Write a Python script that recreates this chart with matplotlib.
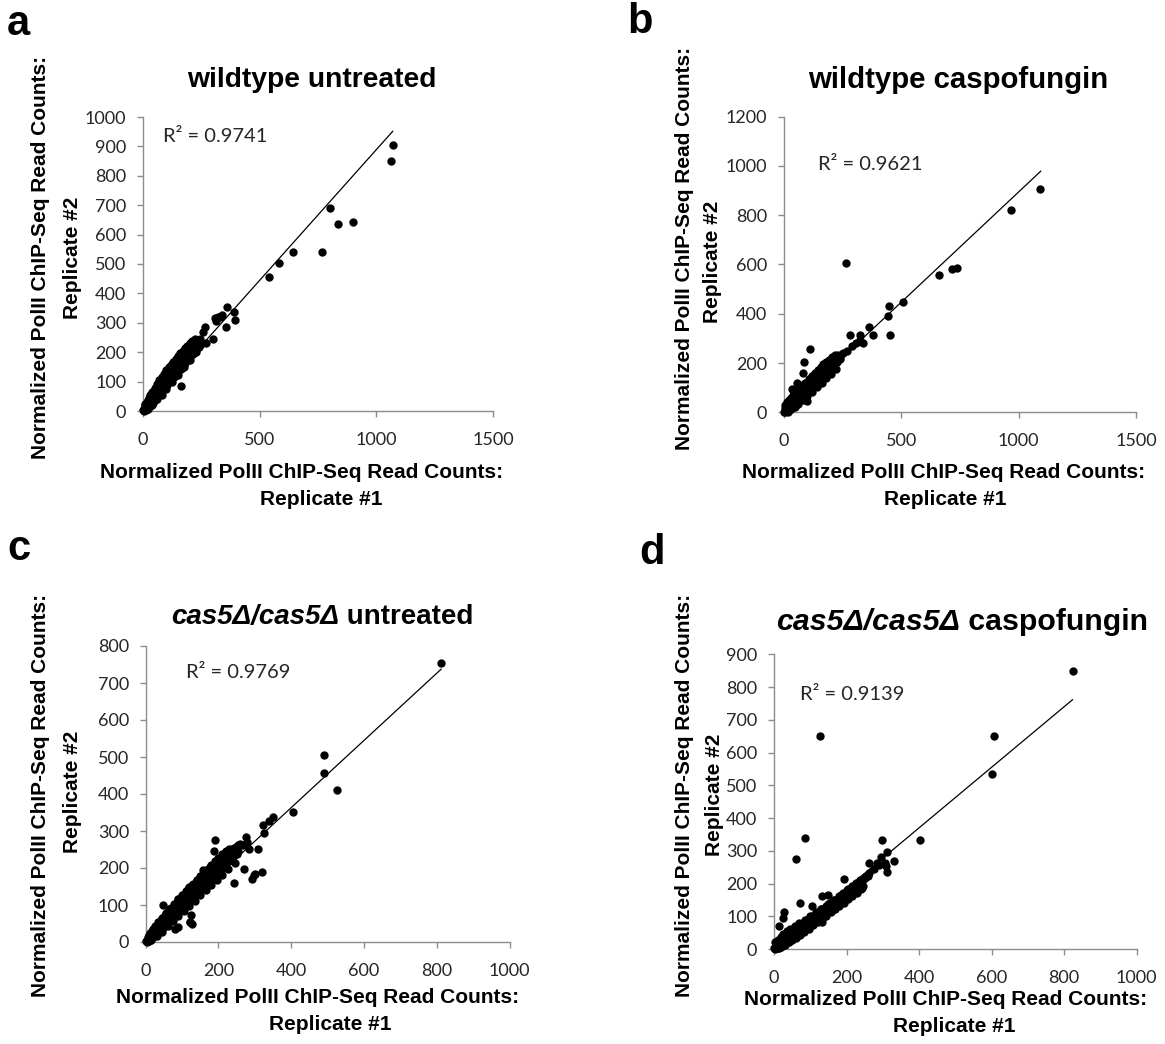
import matplotlib
matplotlib.use("Agg")
import matplotlib.pyplot as plt
import numpy as np

W, H = 1165, 1044

# ---- panel a: wildtype untreated (dense band + outliers) ----
wt_untr_x = [5, 10, 15, 20, 25, 30, 36, 42, 48, 54, 60, 66, 72, 78, 84, 90, 96, 102, 108, 114, 120,
             126, 132, 138, 144, 150, 156, 162, 168, 174, 180, 186, 192, 198, 204, 210, 216, 222, 228,
             234, 240, 246,
             8, 16, 24, 32, 40, 50, 60, 70, 80, 90, 100, 110, 120, 130, 140, 150, 160, 170, 180, 190,
             200, 212, 224,
             12, 22, 32, 42, 52, 62, 72, 82, 92, 102, 112, 122, 132, 142, 152, 162, 172, 182, 192, 202,
             214, 226, 238, 250,
             10, 20, 30, 45, 60, 75, 90, 105, 120, 135, 150, 165, 180, 195, 210,
             20, 40, 60, 80, 100, 125, 150, 175, 200, 225,
             162, 1070, 1063, 800, 834, 898, 765, 641, 581, 542, 362, 388, 396, 355, 330, 312, 267, 259,
             299, 272, 309, 323, 338, 1, 3]
wt_untr_y = [6, 12, 19, 25, 31, 37, 44, 51, 58, 65, 72, 79, 86, 93, 99, 106, 113, 120, 126, 133, 139,
             146, 152, 158, 164, 170, 176, 182, 188, 193, 199, 205, 210, 215, 220, 225, 229, 233, 236,
             239, 242, 245,
             20, 32, 44, 55, 66, 78, 92, 104, 116, 127, 138, 148, 158, 168, 178, 188, 197, 205, 214, 222,
             230, 238, 245,
             4, 10, 18, 28, 38, 48, 58, 68, 78, 88, 98, 108, 117, 126, 135, 144, 153, 162, 172, 182,
             194, 206, 218, 228,
             25, 38, 50, 68, 85, 102, 118, 135, 150, 165, 180, 195, 208, 222, 235,
             6, 22, 40, 56, 74, 98, 122, 148, 172, 200,
             86, 905, 851, 690, 637, 644, 540, 541, 503, 455, 355, 338, 310, 287, 319, 307, 287, 270,
             245, 230, 315, 321, 326, 2, 1]

# ---- panel b: wildtype caspofungin ----
wt_caspo_x = [4, 8, 12, 17, 22, 27, 33, 39, 45, 51, 57, 63, 70, 77, 84, 91, 98, 105, 112, 119, 126,
              133, 140, 147, 154, 161, 168, 175, 182, 190, 198, 206, 214, 222,
              6, 14, 22, 30, 38, 46, 56, 66, 76, 86, 96, 108, 120, 132, 144, 156, 168, 180, 192, 204, 216,
              10, 20, 30, 40, 50, 60, 70, 82, 94, 106, 118, 130, 142, 154, 166, 178, 190, 202, 214, 226, 238,
              5, 12, 20, 28, 38, 50, 62, 75, 90, 105, 120, 135, 150, 165, 180, 195,
              15, 30, 45, 60, 80, 100, 120, 140, 160, 180, 200, 220,
              1092, 967, 264, 662, 717, 738, 506, 449, 443, 453, 362, 378, 324, 280, 335, 305, 288, 267,
              229, 111, 85, 80, 57, 34, 97, 324, 250, 240, 1, 3]
wt_caspo_y = [5, 10, 15, 21, 27, 33, 40, 47, 54, 61, 68, 75, 83, 91, 98, 106, 113, 120, 127, 134, 141,
              148, 155, 162, 169, 176, 182, 189, 195, 202, 209, 216, 222, 229,
              18, 30, 42, 52, 60, 70, 82, 94, 104, 114, 124, 136, 148, 160, 172, 183, 194, 204, 214, 225, 234,
              4, 10, 18, 26, 34, 44, 54, 66, 78, 90, 102, 114, 126, 138, 150, 160, 170, 182, 194, 206, 218,
              28, 40, 50, 60, 70, 80, 92, 104, 118, 132, 146, 160, 172, 186, 198, 212,
              3, 12, 22, 32, 48, 66, 84, 102, 120, 138, 156, 176,
              904, 821, 604, 559, 582, 586, 448, 432, 392, 313, 347, 313, 313, 315, 280, 280, 270, 250,
              234, 257, 205, 161, 118, 94, 46, 293, 240, 225, 2, 1]

# ---- panel c: cas5 untreated ----
cas5_untr_x = [3, 7, 11, 15, 19, 23, 28, 33, 38, 43, 48, 53, 58, 63, 68, 73, 78, 83, 88, 93, 98, 103,
               108, 113, 118, 123, 128, 133, 138, 143, 148, 153, 158, 163, 168, 173, 178, 183, 188, 193,
               198, 203, 208, 213, 218, 223, 228, 233, 238, 243, 248, 254, 260,
               5, 12, 20, 28, 36, 44, 52, 60, 70, 80, 90, 100, 110, 120, 130, 140, 150, 160, 170, 180,
               190, 200, 210, 220, 230,
               10, 18, 26, 34, 42, 50, 60, 70, 80, 90, 100, 110, 120, 130, 140, 150, 160, 170, 180, 190,
               200, 210, 220, 230, 240, 250,
               8, 16, 25, 35, 45, 55, 65, 78, 90, 102, 115, 128, 140, 152, 165, 178, 190, 202, 215,
               15, 30, 45, 60, 75, 90, 105, 120, 135, 150, 165, 180, 195, 210, 225, 245,
               812, 490, 490, 525, 406, 351, 340, 322, 324, 308, 319, 299, 292, 301, 271, 244, 277, 279,
               285, 191, 189, 157, 47, 126, 121, 122, 124, 90, 81, 232, 255, 268, 1, 3]
cas5_untr_y = [4, 8, 12, 16, 21, 25, 30, 35, 41, 46, 51, 57, 62, 67, 73, 78, 83, 89, 94, 99, 105, 110,
               115, 121, 126, 131, 137, 142, 147, 153, 158, 163, 169, 174, 179, 185, 190, 195, 201, 206,
               211, 217, 222, 227, 232, 238, 243, 247, 251, 255, 258, 262, 266,
               14, 24, 34, 44, 54, 63, 72, 82, 93, 104, 115, 126, 137, 148, 158, 168, 178, 188, 198, 208,
               218, 228, 237, 245, 252,
               4, 10, 17, 25, 33, 41, 51, 60, 70, 80, 90, 100, 110, 120, 130, 140, 150, 160, 170, 180,
               190, 200, 210, 220, 230, 238,
               20, 30, 42, 54, 66, 78, 88, 102, 115, 128, 142, 155, 167, 178, 190, 202, 212, 222, 234,
               5, 15, 28, 42, 56, 70, 84, 98, 112, 126, 140, 154, 168, 182, 196, 214,
               753, 506, 456, 411, 351, 339, 327, 317, 295, 251, 190, 181, 169, 185, 198, 160, 285, 271,
               251, 277, 247, 194, 100, 49, 53, 55, 73, 41, 34, 240, 247, 262, 2, 1]

# ---- panel d: cas5 caspofungin ----
cas5_caspo_x = [3, 7, 11, 16, 21, 26, 32, 38, 44, 50, 56, 62, 68, 75, 82, 89, 96, 103, 110, 117, 124,
                131, 138, 145, 152, 159, 166, 173, 180, 188, 196, 204, 212, 220, 228, 236, 244, 252, 260,
                5, 12, 20, 28, 36, 45, 55, 65, 75, 85, 95, 106, 118, 130, 142, 154, 166, 178, 190, 202,
                214, 226, 238, 250, 262, 275, 290,
                10, 20, 30, 40, 50, 60, 72, 84, 96, 108, 120, 132, 144, 156, 168, 180, 192, 204, 216, 228, 240,
                4, 10, 18, 26, 35, 45, 58, 70, 85, 100, 115, 130, 148, 165, 185, 205, 225, 245,
                15, 30, 45, 60, 80, 100, 120, 140, 160, 180, 200, 220, 245,
                823, 607, 602, 127, 86, 60, 403, 299, 311, 332, 308, 311, 294, 262, 283, 194, 132, 150,
                104, 72, 28, 26, 15, 132, 242, 306, 1, 3]
cas5_caspo_y = [3, 6, 9, 13, 18, 22, 27, 32, 37, 42, 47, 52, 57, 63, 69, 75, 81, 87, 93, 99, 105,
                111, 117, 123, 129, 135, 141, 147, 153, 160, 167, 174, 181, 188, 195, 202, 209, 216, 223,
                14, 22, 30, 37, 44, 52, 60, 68, 76, 84, 92, 101, 111, 121, 131, 141, 151, 161, 171, 181,
                191, 201, 211, 221, 231, 243, 256,
                2, 7, 13, 20, 27, 34, 43, 52, 62, 72, 82, 92, 102, 112, 122, 132, 142, 152, 162, 172, 182,
                20, 28, 38, 46, 54, 62, 70, 79, 90, 101, 112, 122, 136, 150, 166, 182, 198, 214,
                4, 14, 26, 38, 55, 72, 88, 105, 122, 138, 155, 172, 192,
                848, 651, 533, 649, 340, 275, 333, 333, 297, 269, 252, 236, 282, 262, 264, 214, 163, 165,
                132, 142, 114, 96, 70, 83, 186, 262, 2, 1]

# linear trendlines (slope, x range) and R^2 as printed
trend_slopes = [0.889, 0.894, 0.908, 0.925]
trend_xmax = [1070, 1094, 812, 823]
r2_labels = ["R² = 0.9741", "R² = 0.9621", "R² = 0.9769", "R² = 0.9139"]

xlims = [1500, 1500, 1000, 1000]
xsteps = [500, 500, 200, 200]
ylims = [1000, 1200, 800, 900]
ysteps = [100, 200, 100, 100]

panel_letters = ["a", "b", "c", "d"]
title_italic = ["", "", "cas5Δ/cas5Δ", "cas5Δ/cas5Δ"]
title_plain = ["wildtype untreated", "wildtype caspofungin", " untreated", " caspofungin"]

xlabel1 = "Normalized PolII ChIP-Seq Read Counts:"
xlabel2 = "Replicate #1"
ylabel2 = "Replicate #2"

data = [(wt_untr_x, wt_untr_y), (wt_caspo_x, wt_caspo_y),
        (cas5_untr_x, cas5_untr_y), (cas5_caspo_x, cas5_caspo_y)]

# layout in pixels: axes box (left, right, top, bottom)
boxes = [(143, 493, 117, 411), (784, 1136, 116.5, 412.3),
         (145.7, 509.5, 646, 942), (774, 1136.7, 654.3, 949)]
letter_pos = [(7, 35), (627, 33), (7, 560), (639, 564)]
title_pos = [(312, 80), (958, 80), (322, 617), (962, 622)]
title_size = [20.3, 21.2, 20, 21.8]
r2_pos = [(163, 137), (818, 165), (186, 673), (800, 694)]
xl_pos = [(302, 478, 321, 505), (944, 478, 945, 505), (318, 1003, 330, 1030), (946, 1005, 954, 1032)]
yl_pos = [(41, 257, 72, 258), (684, 248, 713, 262), (41, 795, 72, 792), (684, 795, 715, 795)]

BOLD = ["Liberation Sans", "DejaVu Sans"]
TICK = ["Lato", "DejaVu Sans"]

fig = plt.figure(figsize=(W / 100, H / 100), dpi=100)
renderer = fig.canvas.get_renderer()


def fx(px):
    return px / W


def fy(py):
    return 1 - py / H


for i in range(4):
    l, r, t, b = boxes[i]
    ax = fig.add_axes([fx(l), fy(b), (r - l) / W, (b - t) / H])
    xs, ys = data[i]
    ax.scatter(xs, ys, s=36, color="black", linewidths=0, clip_on=False, zorder=3)
    xl = np.array([0, trend_xmax[i]])
    ax.plot(xl, trend_slopes[i] * xl, color="black", lw=0.9, zorder=2)

    ax.set_xlim(0, xlims[i])
    ax.set_ylim(0, ylims[i])
    ax.set_xticks(np.arange(0, xlims[i] + 1, xsteps[i]))
    ax.set_yticks(np.arange(0, ylims[i] + 1, ysteps[i]))
    for side in ["top", "right"]:
        ax.spines[side].set_visible(False)
    for side in ["left", "bottom"]:
        ax.spines[side].set_color("#8c8c8c")
        ax.spines[side].set_linewidth(1.0)
    ax.tick_params(direction="out", length=4, width=1.0, color="#8c8c8c",
                   labelsize=13, labelcolor="#262626")
    ax.tick_params(axis="x", pad=11)
    ax.tick_params(axis="y", pad=8)
    for lab in ax.get_xticklabels() + ax.get_yticklabels():
        lab.set_family(TICK)

    # panel letter
    lx, ly = letter_pos[i]
    fig.text(fx(lx), fy(ly), panel_letters[i], family=BOLD, weight="bold",
             fontsize=30, ha="left", va="baseline")

    # title, possibly with italic genotype part
    tx, ty = title_pos[i]
    parts = []
    if title_italic[i]:
        parts.append(fig.text(0, fy(ty), title_italic[i], family=BOLD, weight="bold",
                              style="italic", fontsize=title_size[i], ha="left", va="center"))
    parts.append(fig.text(0, fy(ty), title_plain[i], family=BOLD, weight="bold",
                          fontsize=title_size[i], ha="left", va="center"))
    widths = [p.get_window_extent(renderer).width for p in parts]
    x0 = tx - sum(widths) / 2
    for p, w in zip(parts, widths):
        p.set_x(fx(x0))
        x0 += w

    # R^2 annotation
    rx, ry = r2_pos[i]
    fig.text(fx(rx), fy(ry), r2_labels[i], family=TICK, fontsize=14.5,
             color="#262626", ha="left", va="center")

    # axis labels
    x1, y1, x2, y2 = xl_pos[i]
    fig.text(fx(x1), fy(y1), xlabel1, family=BOLD, weight="bold", fontsize=15,
             ha="center", va="baseline")
    fig.text(fx(x2), fy(y2), xlabel2, family=BOLD, weight="bold", fontsize=15,
             ha="center", va="baseline")
    a1, b1, a2, b2 = yl_pos[i]
    fig.text(fx(a1), fy(b1), xlabel1, family=BOLD, weight="bold", fontsize=15,
             ha="center", va="center", rotation=90)
    fig.text(fx(a2), fy(b2), ylabel2, family=BOLD, weight="bold", fontsize=15,
             ha="center", va="center", rotation=90)

fig.savefig("out.png", dpi=100)
